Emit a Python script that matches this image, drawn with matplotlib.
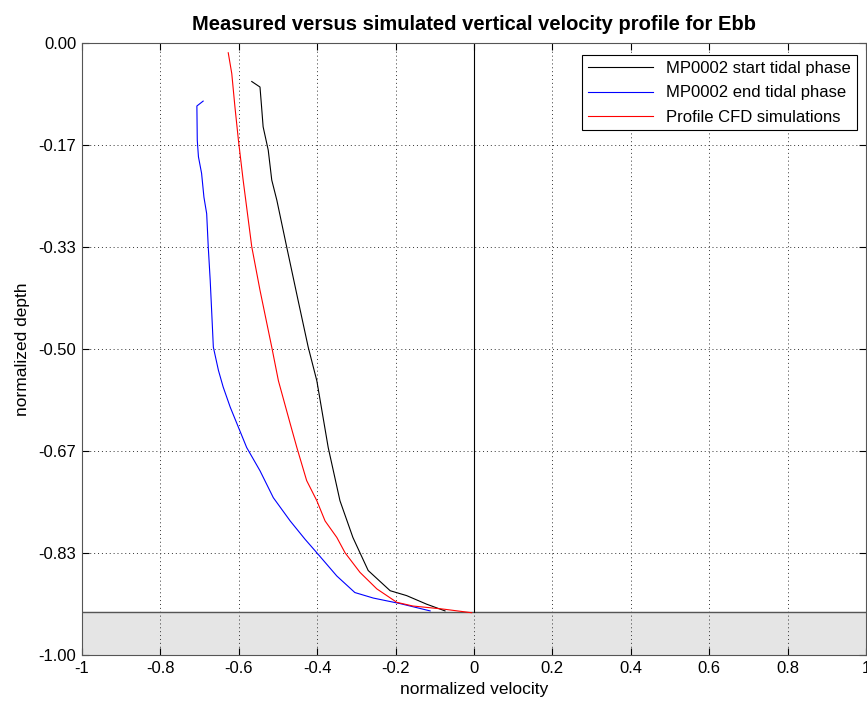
import matplotlib
matplotlib.use("Agg")
import matplotlib.pyplot as plt
import numpy as np

# depth profiles (normalized velocity, normalized depth)
start_u = [-0.567, -0.546, -0.542, -0.538, -0.525, -0.516, -0.503, -0.478, -0.449,
           -0.423, -0.401, -0.372, -0.342, -0.309, -0.291, -0.270, -0.214, -0.172,
           -0.121, -0.074]
start_z = [-0.063, -0.072, -0.104, -0.137, -0.175, -0.224, -0.257, -0.333, -0.420,
           -0.497, -0.552, -0.661, -0.748, -0.808, -0.833, -0.862, -0.895, -0.903,
           -0.917, -0.928]

end_u = [-0.691, -0.707, -0.706, -0.703, -0.695, -0.689, -0.682, -0.678, -0.673,
         -0.669, -0.665, -0.652, -0.640, -0.622, -0.601, -0.580, -0.546, -0.512,
         -0.469, -0.431, -0.401, -0.350, -0.304, -0.257, -0.189, -0.112]
end_z = [-0.095, -0.103, -0.159, -0.186, -0.213, -0.252, -0.279, -0.333, -0.388,
         -0.442, -0.497, -0.535, -0.562, -0.595, -0.628, -0.661, -0.699, -0.743,
         -0.781, -0.811, -0.833, -0.871, -0.898, -0.907, -0.916, -0.928]

cfd_u = [-0.627, -0.618, -0.610, -0.601, -0.589, -0.567, -0.546, -0.516, -0.499,
         -0.469, -0.452, -0.427, -0.401, -0.380, -0.350, -0.329, -0.291, -0.248,
         -0.197, -0.156, -0.079, -0.006]
cfd_z = [-0.016, -0.050, -0.104, -0.159, -0.224, -0.333, -0.404, -0.497, -0.552,
         -0.622, -0.661, -0.715, -0.748, -0.781, -0.808, -0.833, -0.865, -0.892,
         -0.914, -0.920, -0.925, -0.931]

bed_level = -0.93
x_ticks = [-1, -0.8, -0.6, -0.4, -0.2, 0, 0.2, 0.4, 0.6, 0.8, 1]
x_labels = ["-1", "-0.8", "-0.6", "-0.4", "-0.2", "0", "0.2", "0.4", "0.6", "0.8", "1"]
y_ticks = [0, -1 / 6, -2 / 6, -3 / 6, -4 / 6, -5 / 6, -1]

plt.rcParams["font.family"] = ["Liberation Sans", "DejaVu Sans"]

fig = plt.figure(figsize=(8.67, 7.02), dpi=100)
ax = fig.add_axes([0.0946, 0.067, 0.9043, 0.8718])

# seabed
ax.fill_between([-1, 1], -1, bed_level, color="#e5e5e5", zorder=0)
ax.axhline(bed_level, color="#555555", linewidth=1.0, zorder=2)
ax.plot([0, 0], [0, bed_level], color="black", linewidth=0.8, zorder=2)

ax.plot(start_u, start_z, color="black", linewidth=0.8, label="MP0002 start tidal phase", zorder=3)
ax.plot(end_u, end_z, color="blue", linewidth=0.8, label="MP0002 end tidal phase", zorder=3)
ax.plot(cfd_u, cfd_z, color="red", linewidth=0.8, label="Profile CFD simulations", zorder=3)

ax.set_xlim(-1, 1)
ax.set_ylim(-1, 0)
ax.set_xticks(x_ticks)
ax.set_xticklabels(x_labels)
ax.set_yticks(y_ticks)
ax.set_yticklabels([f"{v:.2f}" for v in y_ticks])
ax.tick_params(direction="in", top=True, right=True, length=5, labelsize=12, pad=4)
ax.grid(True, linestyle=(0, (1, 3)), color="#333333", linewidth=0.7, zorder=1)
ax.set_axisbelow(True)
for s in ax.spines.values():
    s.set_color("#555555")

ax.set_xlabel("normalized velocity", fontsize=12.5, labelpad=5)
ax.set_ylabel("normalized depth", fontsize=12.5, labelpad=6)
ax.set_title("Measured versus simulated vertical velocity profile for Ebb",
             fontsize=14.5, fontweight="bold", pad=9)

leg = ax.legend(loc="upper right", bbox_to_anchor=(0.9925, 0.985), fontsize=12,
                frameon=True, fancybox=False, edgecolor="black", framealpha=1,
                borderpad=0.35, labelspacing=0.55, handlelength=3.9, handletextpad=0.8,
                borderaxespad=0.2)
leg.get_frame().set_linewidth(0.8)

fig.savefig("out.png", dpi=100)
plt.close(fig)
